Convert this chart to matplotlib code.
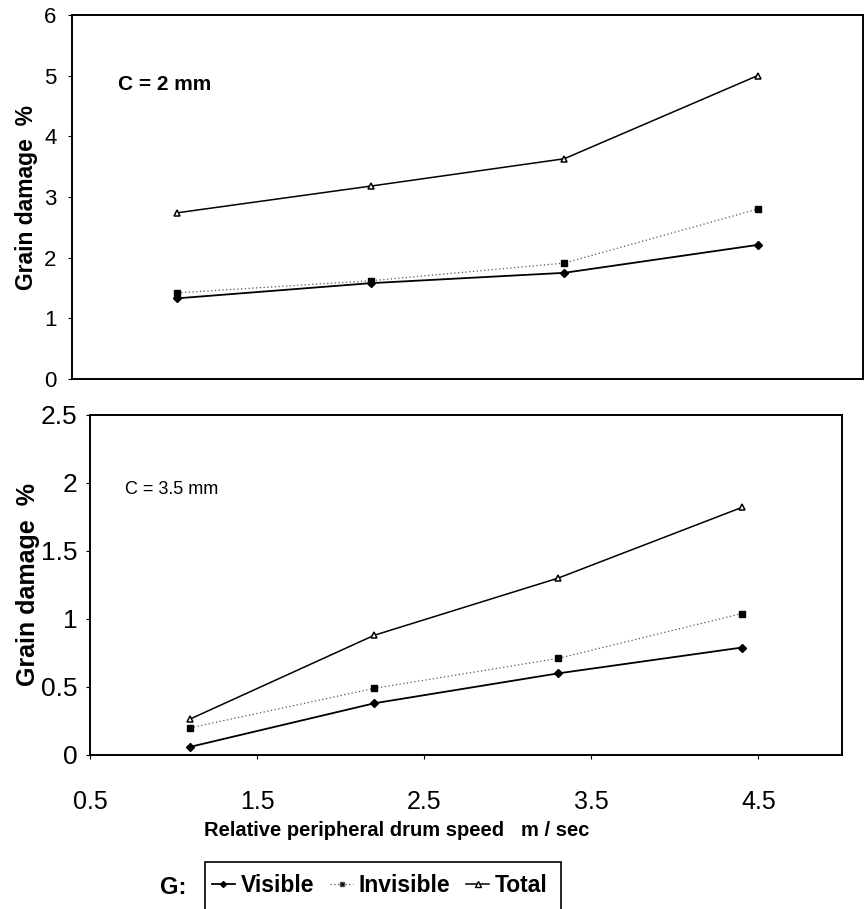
import matplotlib
matplotlib.use("Agg")
import matplotlib.pyplot as plt
from matplotlib.lines import Line2D
from matplotlib.patches import Rectangle

speed = [1.1, 2.2, 3.3, 4.4]

# C = 2 mm
visible_2 = [1.33, 1.58, 1.75, 2.21]
invisible_2 = [1.42, 1.62, 1.91, 2.80]
total_2 = [2.74, 3.18, 3.63, 5.00]

# C = 3.5 mm
visible_35 = [0.06, 0.38, 0.60, 0.79]
invisible_35 = [0.20, 0.49, 0.71, 1.04]
total_35 = [0.265, 0.88, 1.30, 1.82]

top_yticks = [0, 1, 2, 3, 4, 5, 6]
bot_yticks = [0, 0.5, 1, 1.5, 2, 2.5]
bot_ytick_labels = ["0", "0.5", "1", "1.5", "2", "2.5"]
xticks = [0.5, 1.5, 2.5, 3.5, 4.5]
xtick_labels = ["0.5", "1.5", "2.5", "3.5", "4.5"]

plt.rcParams['font.family'] = ['Liberation Sans', 'DejaVu Sans']

W, H = 867, 909
fig = plt.figure(figsize=(W / 100, H / 100), dpi=100)

def frac(l, t, r, b):
    return [l / W, 1 - b / H, (r - l) / W, (b - t) / H]

ax1 = fig.add_axes(frac(72, 15, 863, 379))
ax2 = fig.add_axes(frac(90, 415, 842, 755))

def draw(ax, vis, inv, tot):
    ax.plot(speed, vis, color='black', lw=1.3, marker='D', ms=4,
            mfc='black', mec='black', label='Visible')
    ax.plot(speed, inv, color='#555555', lw=0.9, ls=(0, (1, 2)), marker='s', ms=4,
            mfc='black', mec='black', label='Invisible')
    ax.plot(speed, tot, color='black', lw=1.1, marker='^', ms=5,
            mfc='white', mec='black', mew=1.1, label='Total')
    for s in ax.spines.values():
        s.set_linewidth(1.4)
        s.set_color('black')
    ax.set_xlim(0.5, 5.0)

draw(ax1, visible_2, invisible_2, total_2)
ax1.set_ylim(0, 6)
ax1.set_yticks(top_yticks)
ax1.set_yticklabels([str(v) for v in top_yticks], fontsize=16)
ax1.set_xticks([])
ax1.tick_params(axis='y', direction='out', length=3, width=0.8, pad=8)
ax1.set_ylabel("Grain damage  %", fontsize=16.5, fontweight='bold')
ax1.yaxis.set_label_coords(-34 / 791, 0.5)
ax1.text(0.058, 0.81, "C = 2 mm", transform=ax1.transAxes, fontsize=15,
         fontweight='bold', va='center', ha='left')

draw(ax2, visible_35, invisible_35, total_35)
ax2.set_ylim(0, 2.5)
ax2.set_yticks(bot_yticks)
ax2.set_yticklabels(bot_ytick_labels, fontsize=19)
ax2.set_xticks(xticks)
ax2.set_xticklabels(xtick_labels, fontsize=18)
ax2.tick_params(axis='both', direction='out', length=3, width=0.8)
ax2.tick_params(axis='x', pad=22)
ax2.tick_params(axis='y', pad=6)
ax2.set_ylabel("Grain damage  %", fontsize=18, fontweight='bold')
ax2.yaxis.set_label_coords(-50 / 752, 0.5)
ax2.set_xlabel("Relative peripheral drum speed   m / sec", fontsize=14.5,
               fontweight='bold')
ax2.xaxis.set_label_coords((397 - 90) / 752, -(830 - 755) / 340)
ax2.xaxis.label.set_verticalalignment('center')
ax2.text(0.047, 0.78, "C = 3.5 mm", transform=ax2.transAxes, fontsize=13,
         va='center', ha='left')

handles = [
    Line2D([], [], color='black', lw=1.3, marker='D', ms=3, mfc='black'),
    Line2D([], [], color='#555555', lw=0.9, ls=(0, (1, 2)), marker='s', ms=3, mfc='black'),
    Line2D([], [], color='black', lw=1.1, marker='^', ms=4, mfc='white', mec='black'),
]
leg = fig.legend(handles, ["Visible", "Invisible", "Total"], ncol=3,
                 loc='center left', bbox_to_anchor=(205 / W, 1 - 886 / H),
                 frameon=False, prop={'size': 16.5, 'weight': 'bold'},
                 handlelength=1.0, handletextpad=0.25, columnspacing=0.7,
                 borderpad=0.3, borderaxespad=0)
fig.canvas.draw()
bb = leg.get_window_extent().transformed(fig.transFigure.inverted())
fig.add_artist(Rectangle((bb.x0, -0.02), bb.x1 - bb.x0 + 6 / W,
                         (1 - 862 / H) + 0.02, transform=fig.transFigure,
                         fill=False, edgecolor='black', lw=1.2))
fig.text(160 / W, 1 - 887 / H, "G:", fontsize=17, fontweight='bold',
         va='center', ha='left')

fig.savefig("out.png", dpi=100)
